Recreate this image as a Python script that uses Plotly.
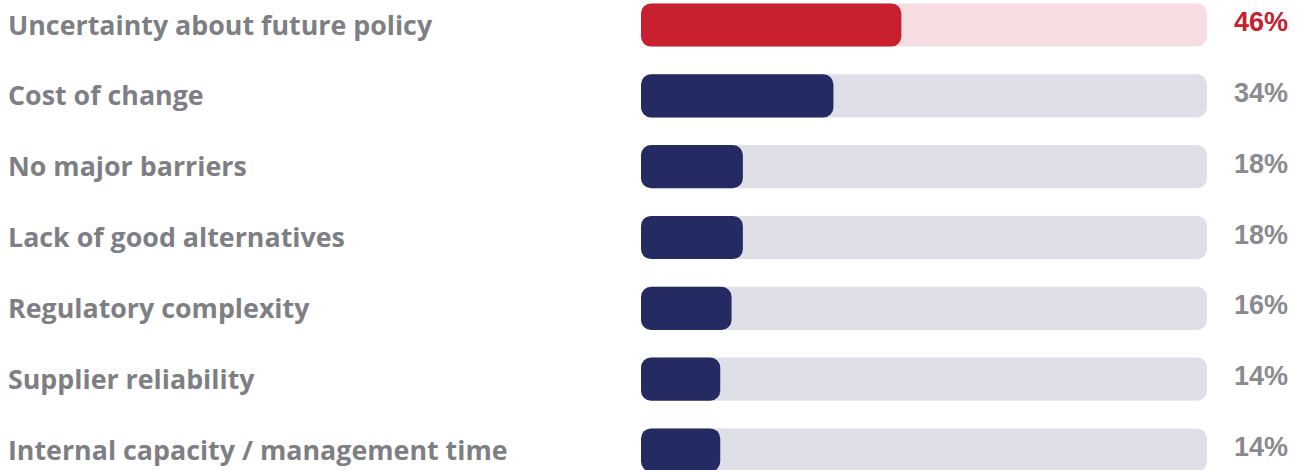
import plotly.graph_objects as go

categories = [
    "Uncertainty about future policy",
    "Cost of change",
    "No major barriers",
    "Lack of good alternatives",
    "Regulatory complexity",
    "Supplier reliability",
    "Internal capacity / management time",
]
values = [46, 34, 18, 18, 16, 14, 14]
value_labels = ["46%", "34%", "18%", "18%", "16%", "14%", "14%"]
highlight = [True, False, False, False, False, False, False]

RED, RED_TRACK = "#C8202F", "#F6DDE1"
NAVY, NAVY_TRACK = "#232B62", "#DFDFE8"
LABEL_GRAY, PCT_GRAY = "#7E7F84", "#8A8A8F"

fill_colors = [RED if h else NAVY for h in highlight]
track_colors = [RED_TRACK if h else NAVY_TRACK for h in highlight]
full = 100
bar_w = 0.61
radius = 10

fig = go.Figure()
fig.add_trace(go.Bar(
    y=categories, x=[full] * len(categories), base=[0] * len(categories),
    orientation="h", width=bar_w,
    marker=dict(color=track_colors, line=dict(width=0), cornerradius=radius),
    hoverinfo="skip", showlegend=False))
fig.add_trace(go.Bar(
    y=categories, x=values, base=[0] * len(categories),
    orientation="h", width=bar_w,
    marker=dict(color=fill_colors, line=dict(width=0), cornerradius=radius),
    hoverinfo="skip", showlegend=False))

W, H = 1304, 470
x0_px, x1_px = 641, 1207
annotations = []
for c, lab, h in zip(categories, value_labels, highlight):
    annotations.append(dict(
        x=6 / W, xref="paper", y=c, yref="y", text=c, showarrow=False, xanchor="left",
        yshift=1,
        font=dict(family="Open Sans", size=26.8, color=LABEL_GRAY, weight=700)))
    annotations.append(dict(
        x=1232 / W, xref="paper", y=c, yref="y", text=lab, showarrow=False, xanchor="left",
        yshift=3,
        font=dict(family="Liberation Sans", size=27, color=RED if h else PCT_GRAY, weight=700)))

n = len(categories)
step = (450 - 25) / (n - 1)
fig.update_layout(
    width=W, height=H, margin=dict(l=0, r=0, t=0, b=0),
    paper_bgcolor="white", plot_bgcolor="white",
    barmode="overlay",
    xaxis=dict(domain=[x0_px / W, x1_px / W], range=[0, full], visible=False, fixedrange=True),
    yaxis=dict(type="category", categoryorder="array", categoryarray=categories,
               range=[(n - 1) + (H - 450) / step, -25 / step], visible=False, fixedrange=True),
    annotations=annotations,
)
fig.write_html("out.html")
